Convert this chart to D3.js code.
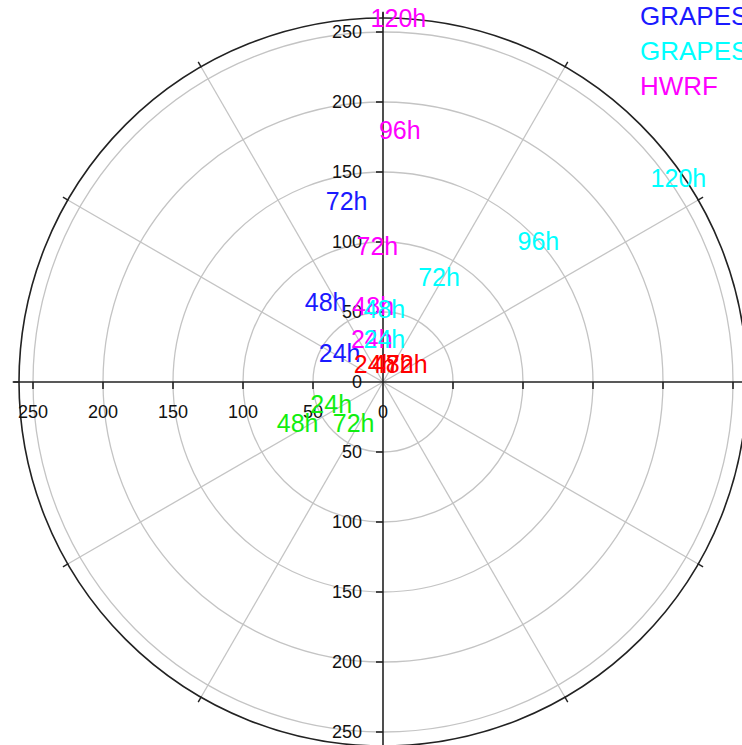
<!DOCTYPE html>
<html>
<head>
<meta charset="utf-8">
<title>Track error polar plot</title>
<script src="https://d3js.org/d3.v7.min.js"></script>
<style>
  html, body { margin: 0; padding: 0; background: #fff; }
  svg { display: block; font-family: "Liberation Sans", Arial, sans-serif; }
</style>
</head>
<body>
<svg id="chart"></svg>
<script>
// lead times / radial ticks
var radialTicks = [50, 100, 150, 200, 250];
var spokeAngles = [30, 60, 120, 150, 210, 240, 300, 330];
var rimTickAngles = [0, 30, 60, 90, 120, 150, 180, 210, 240, 270, 300, 330];
var upperLabels = [0, 50, 100, 150, 200, 250];
var lowerLabels = [50, 100, 150, 200, 250];
var leftLabels = [0, 50, 100, 150, 200, 250];

// legend
var legendNames = ["GRAPES", "GRAPES", "HWRF"];
var legendColors = ["#1a1aff", "#00ffff", "#ff00ff"];

// errors (km): east / north components per lead time
var blueLeads = ["24h", "48h", "72h"];
var blueEast  = [-31, -41, -26];
var blueNorth = [21, 57, 129];

var cyanLeads = ["24h", "48h", "72h", "96h", "120h"];
var cyanEast  = [1, 1, 40, 111, 211];
var cyanNorth = [31, 52, 75, 101, 146];

var magentaLeads = ["24h", "48h", "72h", "96h", "120h"];
var magentaEast  = [-8, -7, -4, 12, 11];
var magentaNorth = [31, 54, 97, 180, 260];

var redLeads = ["24h", "48h", "72h"];
var redEast  = [-6, 7, 17];
var redNorth = [13, 13, 13];

var greenLeads = ["24h", "48h", "72h"];
var greenEast  = [-37, -61, -21];
var greenNorth = [-16, -29, -29];

var width = 742, height = 745;
var cx = 383, cy = 382, rMax = 260, rPx = 364;

var svg = d3.select('#chart').attr('width', width).attr('height', height);

var x = d3.scaleLinear().domain([-rMax, rMax]).range([cx - rPx, cx + rPx]);
var y = d3.scaleLinear().domain([-rMax, rMax]).range([cy + rPx, cy - rPx]);
var r = d3.scaleLinear().domain([0, rMax]).range([0, rPx]);

// grid circles
svg.append('g').selectAll('circle')
  .data(radialTicks)
  .enter().append('circle')
  .attr('cx', x(0)).attr('cy', y(0))
  .attr('r', d => r(d))
  .attr('fill', 'none')
  .attr('stroke', '#c4c4c4')
  .attr('stroke-width', 1.3);

// spokes
svg.append('g').selectAll('line')
  .data(spokeAngles)
  .enter().append('line')
  .attr('x1', x(0)).attr('y1', y(0))
  .attr('x2', d => x(rMax * Math.cos(d * Math.PI / 180)))
  .attr('y2', d => y(rMax * Math.sin(d * Math.PI / 180)))
  .attr('stroke', '#c4c4c4')
  .attr('stroke-width', 1.3);

// outer circle
svg.append('circle')
  .attr('cx', x(0)).attr('cy', y(0)).attr('r', r(rMax))
  .attr('fill', 'none').attr('stroke', '#222').attr('stroke-width', 1.6);

// rim ticks
svg.append('g').selectAll('line')
  .data(rimTickAngles)
  .enter().append('line')
  .attr('x1', d => x((rMax - 0.5) * Math.cos(d * Math.PI / 180)))
  .attr('y1', d => y((rMax - 0.5) * Math.sin(d * Math.PI / 180)))
  .attr('x2', d => x((rMax + 4) * Math.cos(d * Math.PI / 180)))
  .attr('y2', d => y((rMax + 4) * Math.sin(d * Math.PI / 180)))
  .attr('stroke', '#222').attr('stroke-width', 1.4);

// axes
svg.append('line')
  .attr('x1', x(-rMax - 4.5)).attr('x2', x(rMax + 8))
  .attr('y1', y(0)).attr('y2', y(0))
  .attr('stroke', '#222').attr('stroke-width', 1.6);
svg.append('line')
  .attr('x1', x(0)).attr('x2', x(0))
  .attr('y1', y(rMax + 4.5)).attr('y2', y(-rMax - 8))
  .attr('stroke', '#222').attr('stroke-width', 1.6);

// axis ticks
var ticks = svg.append('g').attr('stroke', '#222').attr('stroke-width', 1.6);
[-250, -200, -150, -100, -50, 50, 100, 150, 200, 250].forEach(function (v) {
  ticks.append('line')
    .attr('x1', x(v)).attr('x2', x(v))
    .attr('y1', y(0)).attr('y2', y(0) + 7);
  ticks.append('line')
    .attr('x1', x(0) - 7).attr('x2', x(0))
    .attr('y1', y(v)).attr('y2', y(v));
});

// tick labels
var tl = svg.append('g').attr('font-size', 18).attr('fill', '#111');
tl.selectAll('.up').data(upperLabels).enter().append('text')
  .attr('x', x(0) - 21).attr('y', d => y(d))
  .attr('text-anchor', 'end').attr('dominant-baseline', 'central')
  .text(d => d);
tl.selectAll('.down').data(lowerLabels).enter().append('text')
  .attr('x', x(0) - 21).attr('y', d => y(-d))
  .attr('text-anchor', 'end').attr('dominant-baseline', 'central')
  .text(d => d);
tl.selectAll('.left').data(leftLabels).enter().append('text')
  .attr('x', d => x(-d)).attr('y', y(0) + 30)
  .attr('text-anchor', 'middle').attr('dominant-baseline', 'central')
  .text(d => d);

// lead-time labels
function drawSeries(leads, east, north, color) {
  svg.append('g').selectAll('text')
    .data(leads)
    .enter().append('text')
    .attr('x', (d, i) => x(east[i]))
    .attr('y', (d, i) => y(north[i]))
    .attr('text-anchor', 'middle')
    .attr('dominant-baseline', 'central')
    .attr('font-size', 25)
    .attr('fill', color)
    .text(d => d);
}
drawSeries(blueLeads, blueEast, blueNorth, legendColors[0]);
drawSeries(magentaLeads, magentaEast, magentaNorth, legendColors[2]);
drawSeries(cyanLeads, cyanEast, cyanNorth, legendColors[1]);
drawSeries(greenLeads, greenEast, greenNorth, '#11ee11');
drawSeries(redLeads, redEast, redNorth, '#ff0000');

// legend
svg.append('g').selectAll('text')
  .data(legendNames)
  .enter().append('text')
  .attr('x', 640)
  .attr('y', (d, i) => 25 + i * 35)
  .attr('font-size', 26)
  .attr('fill', (d, i) => legendColors[i])
  .text(d => d);
</script>
</body>
</html>
